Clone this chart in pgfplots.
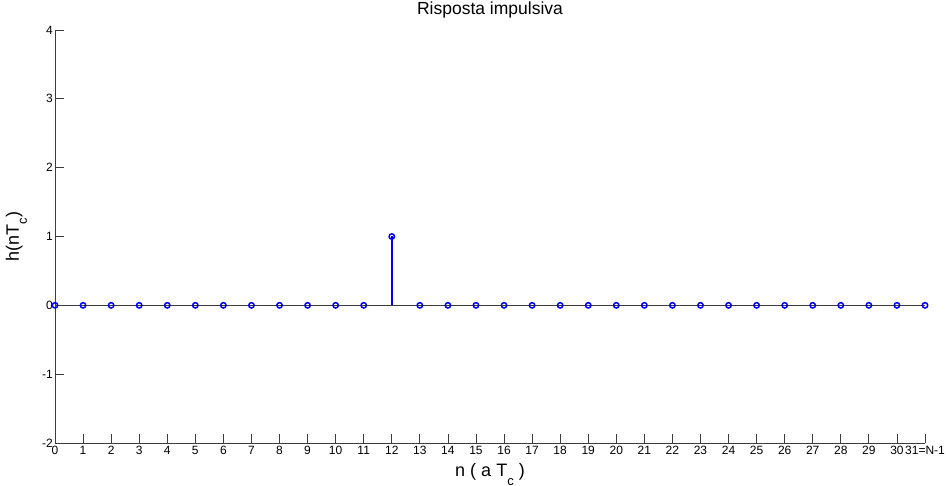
\documentclass[border=0pt]{standalone}
\usepackage{fontspec}
\setmainfont{Liberation Sans}
\usepackage{pgfplots}
\pgfplotsset{compat=1.18}
\definecolor{stemblue}{RGB}{0,0,255}
\definecolor{axisgray}{RGB}{60,60,60}
\newcommand{\sub}[1]{\raisebox{-0.45em}{\fontsize{13}{13}\selectfont #1}}
\begin{document}
\begin{tikzpicture}
\useasboundingbox (-55pt,-43pt) rectangle (891pt,443pt);
\begin{axis}[
  at={(0,0)}, anchor=south west,
  width=870pt, height=413pt, scale only axis,
  xmin=0, xmax=31, ymin=-2, ymax=4,
  axis x line*=bottom, axis y line*=left,
  axis line style={axisgray, line width=0.8pt},
  tick align=inside, major tick length=9pt,
  every tick/.style={axisgray, line width=0.8pt},
  xtick={0,1,...,31},
  xticklabels={0,1,2,3,4,5,6,7,8,9,10,11,12,13,14,15,16,17,18,19,20,21,22,23,24,25,26,27,28,29,30,31=N-1},
  ytick={-2,-1,0,1,2,3,4},
  yticklabels={-2,-1,0,1,2,3,4},
  ticklabel style={font=\fontsize{12}{12}\selectfont, text=black},
  xticklabel style={inner sep=3pt},
  yticklabel style={inner sep=2pt},
  /pgf/number format/assume math mode=true,
  title={Risposta impulsiva},
  title style={at={(axis description cs:0.5,1)}, anchor=base, yshift=9pt,
    font=\fontsize{17.5}{17.5}\selectfont},
  xlabel={n ( a T\sub{c} )},
  xlabel style={at={(axis description cs:0.5,-0.0823)}, anchor=base,
    font=\fontsize{18}{18}\selectfont},
  ylabel={h(nT\sub{c})},
  ylabel style={at={(axis description cs:-0.0415,0.5)}, anchor=base,
    font=\fontsize{18}{18}\selectfont},
  clip=false,
]
% stem baseline
\addplot[axisgray, line width=1pt, forget plot] coordinates {(0,0) (31,0)};
% impulse response h(n)
\addplot[ycomb, stemblue, line width=2pt, mark=o, mark size=2.7pt,
  mark options={line width=1.5pt, fill=none}] coordinates {
  (0,0) (1,0) (2,0) (3,0) (4,0) (5,0) (6,0) (7,0) (8,0) (9,0) (10,0) (11,0)
  (12,1) (13,0) (14,0) (15,0) (16,0) (17,0) (18,0) (19,0) (20,0) (21,0)
  (22,0) (23,0) (24,0) (25,0) (26,0) (27,0) (28,0) (29,0) (30,0) (31,0)
};
\end{axis}
\end{tikzpicture}
\end{document}
